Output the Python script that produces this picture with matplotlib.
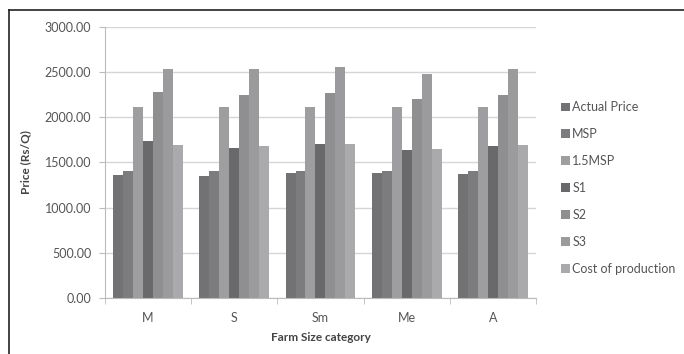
import numpy as np
import matplotlib
matplotlib.use("Agg")
from matplotlib import pyplot as plt
from matplotlib.lines import Line2D

# data
categories = ["M", "S", "Sm", "Me", "A"]
series_names = ["Actual Price", "MSP", "1.5MSP", "S1", "S2", "S3", "Cost of production"]
actual_price = [1360, 1350, 1380, 1380, 1370]
msp = [1410, 1410, 1410, 1410, 1410]
msp_15 = [2115, 2115, 2115, 2115, 2115]
s1 = [1740, 1660, 1700, 1640, 1685]
s2 = [2275, 2245, 2270, 2205, 2245]
s3 = [2535, 2535, 2560, 2480, 2538]
cost = [1690, 1685, 1700, 1648, 1690]

series = [actual_price, msp, msp_15, s1, s2, s3, cost]
colors = ["#727274", "#7c7c7e", "#9e9ea0", "#69696b", "#8f8f91", "#9b9b9d", "#aaaaac"]

plt.rcParams['font.family'] = ['Lato', 'DejaVu Sans']

fig = plt.figure(figsize=(6.84, 3.54), dpi=100)
ax = fig.add_axes([0.1535, 0.158, 0.63, 0.766])

x = np.arange(len(categories))
n = len(series)
group_w = 0.81
bw = group_w / n
for i, (vals, name, c) in enumerate(zip(series, series_names, colors)):
    ax.bar(x - group_w / 2 + bw * (i + 0.5), vals, bw, color=c, label=name, zorder=2)

ax.set_xlim(-0.5, len(categories) - 0.5)
ax.set_ylim(0, 3000)
ax.set_yticks(np.arange(0, 3001, 500))
ax.set_yticklabels([f"{v:.2f}" for v in np.arange(0, 3001, 500)])
ax.set_xticks(x)
ax.set_xticklabels(categories)
ax.set_xticks(np.arange(-0.5, len(categories)), minor=True)
ax.tick_params(axis='x', which='major', length=0, pad=10, labelsize=9, colors='#555555')
ax.tick_params(axis='x', which='minor', length=4, color='#bbbbbb')
ax.tick_params(axis='y', length=4, color='#bbbbbb', labelsize=9, colors='#555555', pad=6)
ax.grid(axis='y', color='#d6d6d6', lw=1, zorder=0)
for s in ['top', 'right']:
    ax.spines[s].set_visible(False)
ax.spines['left'].set_color('#bbbbbb')
ax.spines['bottom'].set_color('#bbbbbb')

ax.set_ylabel("Price (Rs/Q)", fontsize=8.5, fontweight='bold', color='#444444', labelpad=10)
ax.set_xlabel("Farm Size category", fontsize=8.5, fontweight='bold', color='#444444', labelpad=6)

leg = ax.legend(loc='center left', bbox_to_anchor=(1.032, 0.406), frameon=False,
                fontsize=9, handlelength=0.7, handleheight=0.7, handletextpad=0.2,
                labelspacing=1.19, labelcolor='#555555')

# chart frame (cropped at right and bottom)
fig.add_artist(Line2D([9 / 684, 1], [1 - 10 / 354, 1 - 10 / 354], color='#222222', lw=1.2))
fig.add_artist(Line2D([9 / 684, 9 / 684], [0, 1 - 10 / 354], color='#222222', lw=1.2))

fig.savefig("out.png", dpi=100)
